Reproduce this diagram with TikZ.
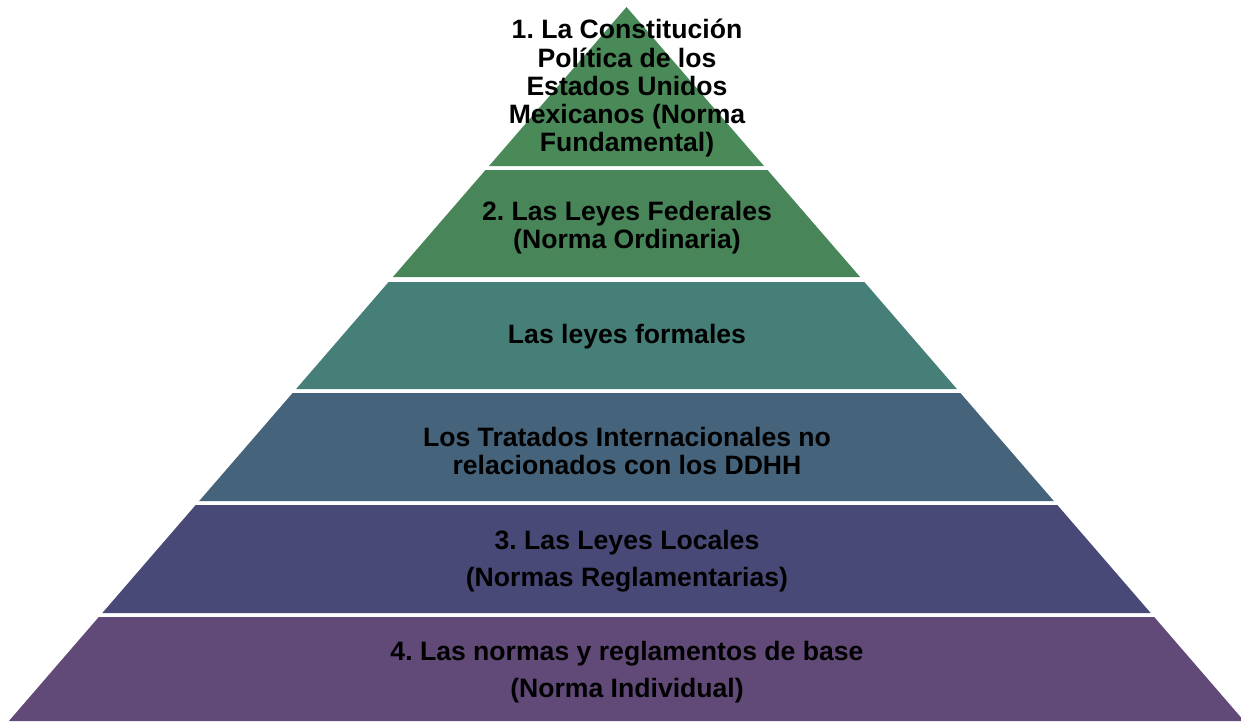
\documentclass[tikz,border=0pt]{standalone}
\usepackage{fontspec}
\setmainfont{Liberation Sans}
\frenchspacing
\definecolor{cA}{HTML}{4A8A58}
\definecolor{cB}{HTML}{488558}
\definecolor{cC}{HTML}{457F78}
\definecolor{cD}{HTML}{45637B}
\definecolor{cE}{HTML}{484977}
\definecolor{cF}{HTML}{614A77}
\begin{document}
\begin{tikzpicture}[x=1pt,y=-1pt,
  lbl/.style={align=center,font=\fontsize{26.6}{28}\selectfont\bfseries\frenchspacing,text=black,inner sep=0pt}]
\useasboundingbox (0,0) rectangle (1241,721);
\clip (0,0) rectangle (1241,721);
\fill[cA] (626.5,7) -- (764,166) -- (489,166) -- cycle;
\fill[cB] (485.5,170) -- (767.5,170) -- (860.1,277) -- (392.9,277) -- cycle;
\fill[cC] (388.6,282) -- (864.4,282) -- (956.9,389) -- (296.1,389) -- cycle;
\fill[cD] (292.6,393) -- (960.4,393) -- (1053.8,501) -- (199.2,501) -- cycle;
\fill[cE] (195.7,505) -- (1057.3,505) -- (1150.7,613) -- (102.3,613) -- cycle;
\fill[cF] (98.8,617) -- (1154.2,617) -- (1244.1,721) -- (8.9,721) -- cycle;
\node[lbl] (l1) at (627,88) {1. La Constitución\\Política de los\\Estados Unidos\\Mexicanos (Norma\\Fundamental)};
\node[lbl] (l2) at (627,228) {2. Las Leyes Federales\\(Norma Ordinaria)};
\node[lbl] (l3) at (627,337) {Las leyes formales};
\node[lbl] (l4) at (627,451) {Los Tratados Internacionales no\\relacionados con los DDHH};
\node[lbl] (l5) at (627,561) {3. Las Leyes Locales\\[9.5pt](Normas Reglamentarias)};
\node[lbl] (l6) at (627,672.5) {4. Las normas y reglamentos de base\\[9pt](Norma Individual)};
\end{tikzpicture}
\end{document}
